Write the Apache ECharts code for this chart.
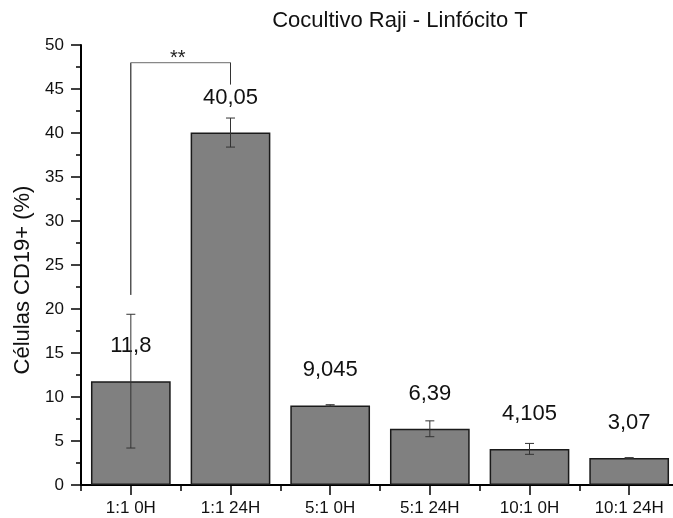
<!DOCTYPE html>
<html>
<head>
<meta charset="utf-8">
<script src="https://cdn.jsdelivr.net/npm/echarts@6/dist/echarts.min.js"></script>
<style>
  html, body { margin: 0; padding: 0; background: #fff; }
  #chart { width: 673px; height: 518px; }
</style>
</head>
<body>
<div id="chart"></div>
<script>
// Coculture groups (effector:target ratio and time point)
const categories = ['1:1 0H', '1:1 24H', '5:1 0H', '5:1 24H', '10:1 0H', '10:1 24H'];
// Mean CD19+ cell percentage per group
const means = [11.8, 40.05, 9.045, 6.39, 4.105, 3.07];
// Error (± half-range) per group
const errors = [7.6, 1.65, 0.08, 0.9, 0.62, 0.04];
// Significance bracket: compared groups, bracket level, left/right leg ends
const bracketPair = [0, 1];
const bracketLevels = [48, 21.6, 45.5];
const bracketMark = '**';
// Y axis range
const yTicks = [0, 50, 5];

const FONT = "'Liberation Sans', Arial, sans-serif";
const chart = echarts.init(document.getElementById('chart'), null, { renderer: 'canvas' });

const errorData = means.map((m, i) => [i, m, errors[i]]);

const option = {
  animation: false,
  backgroundColor: '#fff',
  textStyle: { fontFamily: FONT, color: '#000' },
  title: {
    text: 'Cocultivo Raji - Linfócito T',
    left: 395,
    textAlign: 'center',
    top: 5,
    textStyle: { fontFamily: FONT, fontSize: 22, fontWeight: 'normal', color: '#111' }
  },
  grid: { left: 81, right: -6, top: 45, bottom: 33, containLabel: false, outerBoundsMode: 'none' },
  xAxis: [
    {
      type: 'category',
      data: categories,
      position: 'bottom',
      axisLine: { show: true, lineStyle: { color: '#000', width: 2 } },
      axisTick: { show: true, alignWithLabel: true, length: 10, lineStyle: { color: '#000', width: 1.5 } },
      axisLabel: { fontFamily: FONT, fontSize: 17, color: '#111', margin: 15 },
      splitLine: { show: false }
    },
    {
      type: 'category',
      data: categories,
      position: 'bottom',
      axisLine: { show: false },
      axisTick: { show: true, alignWithLabel: false, length: 6, lineStyle: { color: '#000', width: 1.5 } },
      axisLabel: { show: false },
      splitLine: { show: false }
    }
  ],
  yAxis: {
    type: 'value',
    min: yTicks[0],
    max: yTicks[1],
    interval: yTicks[2],
    name: 'Células CD19+ (%)',
    nameLocation: 'middle',
    nameGap: 44,
    nameTextStyle: { fontFamily: FONT, fontSize: 22, color: '#111', padding: [0, 30, 0, 0] },
    axisLine: { show: true, lineStyle: { color: '#000', width: 2 } },
    axisTick: { show: true, length: 10, lineStyle: { color: '#000', width: 1.5 } },
    minorTick: { show: true, splitNumber: 2, length: 5, lineStyle: { color: '#000', width: 1.5 } },
    axisLabel: { fontFamily: FONT, fontSize: 17, color: '#111', margin: 17 },
    splitLine: { show: false }
  },
  series: [
    {
      type: 'bar',
      data: means,
      barCategoryGap: '20%',
      itemStyle: { color: '#808080', borderColor: '#1a1a1a', borderWidth: 1.5 },
      label: {
        show: true,
        position: 'top',
        distance: 24,
        fontFamily: FONT,
        fontSize: 22,
        color: '#111',
        formatter: p => String(p.value).replace('.', ',')
      },
      z: 2
    },
    {
      type: 'custom',
      name: 'error',
      data: errorData,
      z: 5,
      renderItem: function (params, api) {
        const x = api.value(0), m = api.value(1), e = api.value(2);
        const top = api.coord([x, m + e]);
        const bot = api.coord([x, m - e]);
        const h = 4.5;
        const style = { stroke: '#333', lineWidth: 1 };
        return {
          type: 'group',
          children: [
            { type: 'line', shape: { x1: top[0], y1: top[1], x2: bot[0], y2: bot[1] }, style },
            { type: 'line', shape: { x1: top[0] - h, y1: top[1], x2: top[0] + h, y2: top[1] }, style },
            { type: 'line', shape: { x1: bot[0] - h, y1: bot[1], x2: bot[0] + h, y2: bot[1] }, style }
          ]
        };
      }
    },
    {
      type: 'custom',
      name: 'significance',
      data: [[bracketPair[0], bracketPair[1], bracketLevels[0], bracketLevels[1], bracketLevels[2]]],
      z: 5,
      renderItem: function (params, api) {
        const a = api.value(0), b = api.value(1), lvl = api.value(2);
        const pA = api.coord([a, lvl]);
        const pB = api.coord([b, lvl]);
        const endA = api.coord([a, api.value(3)]);
        const endB = api.coord([b, api.value(4)]);
        return {
          type: 'group',
          children: [
            { type: 'line', shape: { x1: pA[0], y1: pA[1], x2: endA[0], y2: endA[1] }, style: { stroke: '#000', lineWidth: 1 } },
            { type: 'line', shape: { x1: pA[0], y1: pA[1], x2: pB[0], y2: pB[1] }, style: { stroke: '#888', lineWidth: 1.2 } },
            { type: 'line', shape: { x1: pB[0], y1: pB[1], x2: endB[0], y2: endB[1] }, style: { stroke: '#333', lineWidth: 1 } },
            {
              type: 'text',
              style: {
                text: bracketMark,
                x: (pA[0] + pB[0]) / 2 - 3,
                y: pA[1] + 6,
                align: 'center',
                verticalAlign: 'bottom',
                fontFamily: FONT,
                fontSize: 20,
                fill: '#222'
              }
            }
          ]
        };
      }
    }
  ]
};

chart.setOption(option);
</script>
</body>
</html>
